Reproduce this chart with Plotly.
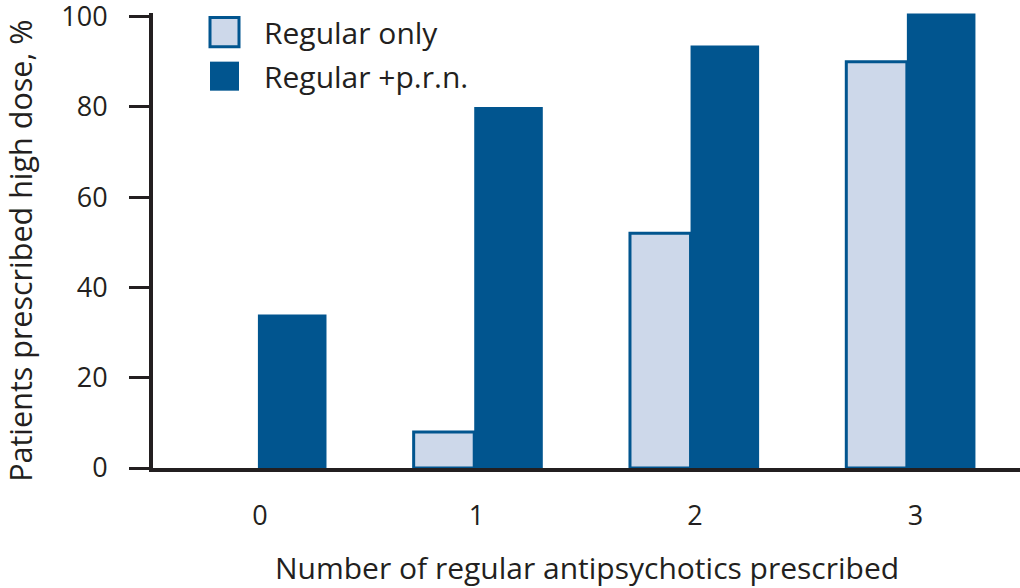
import plotly.graph_objects as go

categories = ["0", "1", "2", "3"]
regular_only = [None, 8, 52, 90]
regular_prn = [34, 80, 93.6, 100.7]
series_names = ["Regular only", "Regular +p.r.n."]
y_ticks = [0, 20, 40, 60, 80, 100]
x_title = "Number of regular antipsychotics prescribed"
y_title = "Patients prescribed high dose, %"

DARK = "#01558f"
LIGHT = "#cdd8ea"
INK = "#231f20"
FONT = "Open Sans"

W, H = 1020, 588
Y_MAX = 100.8
L, R, B = 153, 0, 120
T = 17 - (Y_MAX - 100) * 4.51

fig = go.Figure()
fig.add_trace(go.Bar(
    x=[0, 1, 2, 3], y=regular_only, name=series_names[0],
    width=0.28, offset=-0.28,
    marker=dict(color=LIGHT, line=dict(color=DARK, width=3)),
    cliponaxis=False,
))
fig.add_trace(go.Bar(
    x=[0, 1, 2, 3], y=regular_prn, name=series_names[1],
    width=0.317, offset=0,
    marker=dict(color=DARK, line=dict(color=DARK, width=0)),
    cliponaxis=False,
))

fig.update_layout(
    width=W, height=H,
    margin=dict(l=L, r=R, t=T, b=B, autoexpand=False),
    paper_bgcolor="white", plot_bgcolor="white",
    barmode="overlay",
    showlegend=False,
    font=dict(family=FONT, size=27, color=INK),
)
fig.update_xaxes(
    range=[-0.485, 3.523], automargin=False,
    tickmode="array", tickvals=[0.01, 1.01, 2.02, 3.04], ticktext=categories,
    showline=True, linecolor=INK, linewidth=4,
    ticks="", showgrid=False, zeroline=False,
    ticklabelstandoff=21,
    tickfont=dict(size=27),
)
fig.update_yaxes(
    range=[0, Y_MAX], automargin=False,
    tickmode="array", tickvals=y_ticks, ticktext=[str(v) for v in y_ticks],
    showline=True, linecolor=INK, linewidth=4,
    ticks="outside", ticklen=20, tickwidth=3, tickcolor=INK,
    showgrid=False, zeroline=False,
    ticklabelstandoff=16, ticklabeloverflow="allow",
    tickfont=dict(size=27),
)

pw = W - L - R
ph = H - T - B
def px_x(x):
    return (x - L) / pw
def px_y(y):
    return 1 - (y - T) / ph

# axis titles
fig.add_annotation(xref="paper", yref="paper", x=px_x(587), y=px_y(567),
                   text=x_title, showarrow=False, xanchor="center", yanchor="middle",
                   font=dict(family=FONT, size=30, color=INK))
fig.add_annotation(xref="paper", yref="paper", x=px_x(20), y=px_y(251),
                   text=y_title, showarrow=False, xanchor="center", yanchor="middle",
                   textangle=-90, font=dict(family=FONT, size=30.5, color=INK))

# custom legend
legend_items = [
    (series_names[0], LIGHT, 3, 18, 47),
    (series_names[1], DARK, 0, 62, 91),
]
for name, fill, lw, y0, y1 in legend_items:
    fig.add_shape(type="rect", xref="paper", yref="paper",
                  x0=px_x(210), x1=px_x(239), y0=px_y(y1), y1=px_y(y0),
                  fillcolor=fill, line=dict(color=DARK, width=lw))
    fig.add_annotation(xref="paper", yref="paper", x=px_x(262), y=px_y((y0 + y1) / 2),
                       text=name, showarrow=False, xanchor="left", yanchor="middle",
                       font=dict(family=FONT, size=30, color=INK))

fig.write_html("out.html", config={"displayModeBar": False},
               post_script="document.body.style.margin='0';document.body.style.padding='0';")
